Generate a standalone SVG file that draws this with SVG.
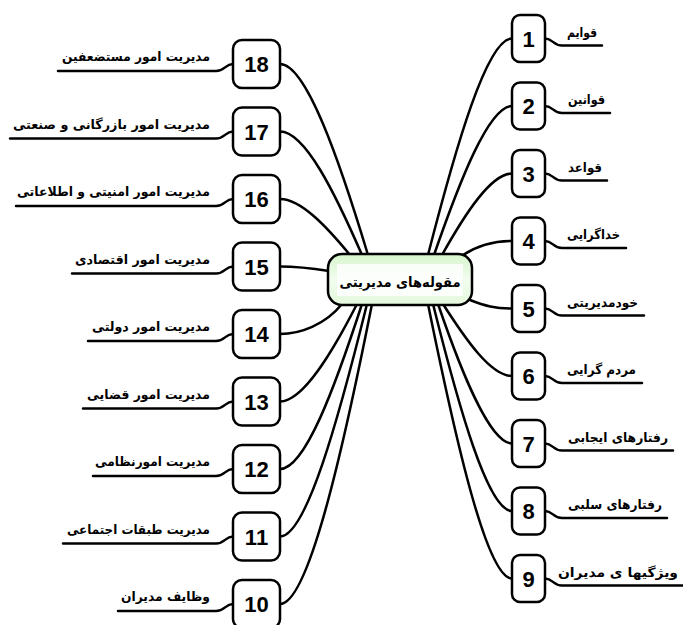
<svg xmlns="http://www.w3.org/2000/svg" width="683" height="625" viewBox="0 0 683 625">
<style>
.box{fill:#fff;stroke:#000;stroke-width:2.5}
.num{font-family:"Liberation Sans",Arial,sans-serif;font-weight:bold;font-size:22px;text-anchor:middle;fill:#000}
.lbl{font-family:"DejaVu Sans",sans-serif;font-weight:bold;font-size:13px;text-anchor:end;fill:#000}
.c{fill:none;stroke:#000;stroke-width:2.5;stroke-linecap:round}
</style>
<defs>
<linearGradient id="g" x1="0" y1="0" x2="0" y2="1">
<stop offset="0" stop-color="#d6f5cc"/>
<stop offset="0.5" stop-color="#f2fcef"/>
<stop offset="1" stop-color="#e4f8dc"/>
</linearGradient>
</defs>
<rect width="683" height="625" fill="#fff"/>
<g id="connectors">
<path class="c" d="M428,255 C456,146 487,38.5 512,38.5"/>
<path class="c" d="M434,255 C460,180 489,106 512,106"/>
<path class="c" d="M442,255 C465,214 491,173.5 512,173.5"/>
<path class="c" d="M463,255 C480,244 495,241 512,241"/>
<path class="c" d="M470,300 C485,306 495,308.5 512,308.5"/>
<path class="c" d="M443,304 C466,340 491,376 512,376"/>
<path class="c" d="M438,304 C462,374 490,443.5 512,443.5"/>
<path class="c" d="M433,304 C459,408 488,511 512,511"/>
<path class="c" d="M428,304 C456,442 487,578.5 512,578.5"/>
<path class="c" d="M368,255 C339,159 306,64 280,64"/>
<path class="c" d="M362,255 C335,193 305,131.5 280,131.5"/>
<path class="c" d="M350,255 C327,227 301,199 280,199"/>
<path class="c" d="M329,271 C310,268 300,266.5 280,266.5"/>
<path class="c" d="M342,304 C325,325 300,334 280,334"/>
<path class="c" d="M357,304 C332,353 303,401.5 280,401.5"/>
<path class="c" d="M362,304 C335,387 305,469 280,469"/>
<path class="c" d="M367,304 C338,421 306,536.5 280,536.5"/>
<path class="c" d="M372,304 C342,455 308,604 280,604"/>
<path class="c" d="M545,38.5 C553,38.5 553,45.5 562,45.5 L602,45.5"/>
<path class="c" d="M545,106 C553,106 553,113 562,113 L610,113"/>
<path class="c" d="M545,173.5 C553,173.5 553,180.5 562,180.5 L607,180.5"/>
<path class="c" d="M545,241 C553,241 553,248 562,248 L626,248"/>
<path class="c" d="M545,308.5 C553,308.5 553,315.5 562,315.5 L644,315.5"/>
<path class="c" d="M545,376 C553,376 553,383 562,383 L642,383"/>
<path class="c" d="M545,443.5 C553,443.5 553,450.5 562,450.5 L673,450.5"/>
<path class="c" d="M545,511 C553,511 553,518 562,518 L667,518"/>
<path class="c" d="M545,578.5 C553,578.5 553,585.5 562,585.5 L683,585.5"/>
<path class="c" d="M233,64 C225,64 225,71 216,71 L58,71"/>
<path class="c" d="M233,131.5 C225,131.5 225,138.5 216,138.5 L10,138.5"/>
<path class="c" d="M233,199 C225,199 225,206 216,206 L16,206"/>
<path class="c" d="M233,266.5 C225,266.5 225,273.5 216,273.5 L72,273.5"/>
<path class="c" d="M233,334 C225,334 225,341 216,341 L88,341"/>
<path class="c" d="M233,401.5 C225,401.5 225,408.5 216,408.5 L83,408.5"/>
<path class="c" d="M233,469 C225,469 225,476 216,476 L93,476"/>
<path class="c" d="M233,536.5 C225,536.5 225,543.5 216,543.5 L63,543.5"/>
<path class="c" d="M233,604 C225,604 225,611 216,611 L118,611"/>
</g>
<g id="center">
<rect x="328" y="254" width="144" height="51" rx="14" fill="url(#g)" stroke="#000" stroke-width="2.5"/>
<rect x="337" y="264" width="126" height="32" fill="#fff" opacity="0.8"/>
<text x="400" y="287" style="font-family:'DejaVu Sans',sans-serif;font-weight:bold;font-size:14px;text-anchor:middle" textLength="121" lengthAdjust="spacingAndGlyphs">مقوله‌های مدیریتی</text>
</g>
<g id="n1"><rect class="box" x="512" y="15" width="33" height="47" rx="8"/><text class="num" x="528.5" y="46.5">1</text><text class="lbl" x="597" y="36.5" textLength="30" lengthAdjust="spacingAndGlyphs">قوایم</text></g>
<g id="n2"><rect class="box" x="512" y="82.5" width="33" height="47" rx="8"/><text class="num" x="528.5" y="114">2</text><text class="lbl" x="605" y="104" textLength="37" lengthAdjust="spacingAndGlyphs">قوانین</text></g>
<g id="n3"><rect class="box" x="512" y="150" width="33" height="47" rx="8"/><text class="num" x="528.5" y="181.5">3</text><text class="lbl" x="602" y="171.5" textLength="34" lengthAdjust="spacingAndGlyphs">قواعد</text></g>
<g id="n4"><rect class="box" x="512" y="217.5" width="33" height="47" rx="8"/><text class="num" x="528.5" y="249">4</text><text class="lbl" x="620" y="239" textLength="53" lengthAdjust="spacingAndGlyphs">خداگرایی</text></g>
<g id="n5"><rect class="box" x="512" y="285" width="33" height="47" rx="8"/><text class="num" x="528.5" y="316.5">5</text><text class="lbl" x="638" y="306.5" textLength="71" lengthAdjust="spacingAndGlyphs">خودمدیریتی</text></g>
<g id="n6"><rect class="box" x="512" y="352.5" width="33" height="47" rx="8"/><text class="num" x="528.5" y="384">6</text><text class="lbl" x="636" y="374" textLength="69" lengthAdjust="spacingAndGlyphs">مردم گرایی</text></g>
<g id="n7"><rect class="box" x="512" y="420" width="33" height="47" rx="8"/><text class="num" x="528.5" y="451.5">7</text><text class="lbl" x="668" y="441.5" textLength="100" lengthAdjust="spacingAndGlyphs">رفتارهای ایجابی</text></g>
<g id="n8"><rect class="box" x="512" y="487.5" width="33" height="47" rx="8"/><text class="num" x="528.5" y="519">8</text><text class="lbl" x="662" y="509" textLength="94" lengthAdjust="spacingAndGlyphs">رفتارهای سلبی</text></g>
<g id="n9"><rect class="box" x="512" y="555" width="33" height="47" rx="8"/><text class="num" x="528.5" y="586.5">9</text><text class="lbl" x="678" y="576.5" textLength="120" lengthAdjust="spacingAndGlyphs">ویژگیها ی مدیران</text></g>
<g id="n18"><rect class="box" x="233" y="40" width="47" height="48" rx="9"/><text class="num" x="256.5" y="72">18</text><text class="lbl" x="210" y="61" textLength="148" lengthAdjust="spacingAndGlyphs">مدیریت امور مستضعفین</text></g>
<g id="n17"><rect class="box" x="233" y="107.5" width="47" height="48" rx="9"/><text class="num" x="256.5" y="139.5">17</text><text class="lbl" x="210" y="128.5" textLength="197" lengthAdjust="spacingAndGlyphs">مدیریت امور بازرگانی و صنعتی</text></g>
<g id="n16"><rect class="box" x="233" y="175" width="47" height="48" rx="9"/><text class="num" x="256.5" y="207">16</text><text class="lbl" x="210" y="196" textLength="193" lengthAdjust="spacingAndGlyphs">مدیریت امور امنیتی و اطلاعاتی</text></g>
<g id="n15"><rect class="box" x="233" y="242.5" width="47" height="48" rx="9"/><text class="num" x="256.5" y="274.5">15</text><text class="lbl" x="210" y="263.5" textLength="135" lengthAdjust="spacingAndGlyphs">مدیریت امور اقتصادی</text></g>
<g id="n14"><rect class="box" x="233" y="310" width="47" height="48" rx="9"/><text class="num" x="256.5" y="342">14</text><text class="lbl" x="210" y="331" textLength="118" lengthAdjust="spacingAndGlyphs">مدیریت امور دولتی</text></g>
<g id="n13"><rect class="box" x="233" y="377.5" width="47" height="48" rx="9"/><text class="num" x="256.5" y="409.5">13</text><text class="lbl" x="210" y="398.5" textLength="123" lengthAdjust="spacingAndGlyphs">مدیریت امور قضایی</text></g>
<g id="n12"><rect class="box" x="233" y="445" width="47" height="48" rx="9"/><text class="num" x="256.5" y="477">12</text><text class="lbl" x="210" y="466" textLength="115" lengthAdjust="spacingAndGlyphs">مدیریت امورنظامی</text></g>
<g id="n11"><rect class="box" x="233" y="512.5" width="47" height="48" rx="9"/><text class="num" x="256.5" y="544.5">11</text><text class="lbl" x="210" y="533.5" textLength="143" lengthAdjust="spacingAndGlyphs">مدیریت طبقات اجتماعی</text></g>
<g id="n10"><rect class="box" x="233" y="580" width="47" height="48" rx="9"/><text class="num" x="256.5" y="612">10</text><text class="lbl" x="210" y="601" textLength="89" lengthAdjust="spacingAndGlyphs">وظایف مدیران</text></g>
</svg>
